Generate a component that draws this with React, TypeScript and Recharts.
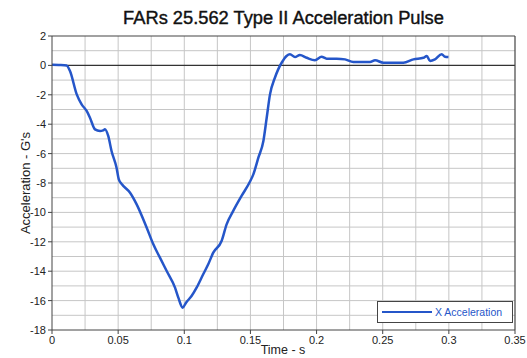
import React from "react";
import {
  LineChart,
  Line,
  XAxis,
  YAxis,
  ReferenceLine,
} from "recharts";

// sampled pulse: time (s) and acceleration (G)
const times = [
  0, 0.005, 0.011, 0.0136, 0.0187, 0.0224, 0.0262, 0.0287, 0.0325, 0.0363,
  0.0386, 0.04, 0.0425, 0.045, 0.0488, 0.0505, 0.053, 0.059, 0.064, 0.0716,
  0.0766, 0.0816, 0.0867, 0.093, 0.0955, 0.0988, 0.1013, 0.1055, 0.1093,
  0.1143, 0.1181, 0.1219, 0.1282, 0.132, 0.137, 0.1433, 0.1497, 0.1522, 0.156,
  0.1598, 0.1623, 0.1648, 0.1685, 0.171, 0.1736, 0.1773, 0.1799, 0.1837,
  0.1874, 0.1925, 0.1988, 0.2038, 0.2076, 0.2152, 0.2215, 0.2278, 0.2404,
  0.2442, 0.2505, 0.2656, 0.2732, 0.2808, 0.2833, 0.2858, 0.2895, 0.2946,
  0.2971, 0.2997,
];
const accel = [
  0.05, 0.03, 0, -0.38, -1.97, -2.65, -3.1, -3.56, -4.35, -4.46, -4.42, -4.35,
  -4.8, -5.82, -6.96, -7.75, -8.1, -8.66, -9.45, -11.04, -12.17, -13.08,
  -13.99, -15.12, -15.8, -16.48, -16.14, -15.69, -15.12, -14.21, -13.53,
  -12.74, -11.95, -10.81, -9.9, -8.88, -7.9, -7.41, -6.28, -5.14, -3.56,
  -1.97, -0.84, -0.27, 0.18, 0.64, 0.76, 0.57, 0.71, 0.52, 0.35, 0.59, 0.46,
  0.46, 0.41, 0.23, 0.23, 0.35, 0.18, 0.18, 0.41, 0.52, 0.64, 0.3, 0.41, 0.76,
  0.59, 0.57,
];

const xTicks = [0, 0.05, 0.1, 0.15, 0.2, 0.25, 0.3, 0.35];
const yTicks = [-18, -16, -14, -12, -10, -8, -6, -4, -2, 0, 2];
const xGrid = [0.025, 0.05, 0.075, 0.1, 0.125, 0.15, 0.175, 0.2, 0.225, 0.25, 0.275, 0.3, 0.325];
const yGrid = [-17, -16, -15, -14, -13, -12, -11, -10, -9, -8, -7, -6, -5, -4, -3, -2, -1, 1];

const data = times.map((t, i) => ({ t, x: accel[i] }));

const FONT = "'Liberation Sans', Arial, sans-serif";
const BLUE = "#2556c9";
const GRID = "#c6c6c6";

export default function App() {
  return (
    <div style={{ position: "absolute", left: 0, top: 0, width: 527, height: 358, background: "#fff" }}>
      <div
        style={{
          position: "absolute",
          left: 52,
          width: 463,
          top: 7,
          textAlign: "center",
          fontFamily: FONT,
          fontSize: 18.3,
          color: "#111",
          WebkitTextStroke: "0.4px #111",
        }}
      >
        FARs 25.562 Type II Acceleration Pulse
      </div>
      <LineChart
        width={527}
        height={358}
        data={data}
        margin={{ top: 36, right: 12, bottom: 0, left: 0 }}
        style={{ fontFamily: FONT }}
      >
        <XAxis
          dataKey="t"
          type="number"
          domain={[0, 0.35]}
          ticks={xTicks}
          height={28}
          stroke="#444"
          tickSize={4}
          tick={{ fill: "#222", fontSize: 11 }}
          label={{
            content: () => (
              <text x={283} y={350} textAnchor="middle" dominantBaseline="central" fill="#222" fontSize={12.5}>
                Time - s
              </text>
            ),
          }}
        />
        <YAxis
          type="number"
          domain={[-18, 2]}
          ticks={yTicks}
          width={52}
          stroke="#444"
          tickSize={4}
          tick={{ fill: "#222", fontSize: 11 }}
          label={{
            content: () => (
              <text
                x={25}
                y={183}
                transform="rotate(-90 25 183)"
                textAnchor="middle"
                dominantBaseline="central"
                fill="#222"
                fontSize={13}
              >
                Acceleration - G's
              </text>
            ),
          }}
        />
        {xGrid.map((v) => (
          <ReferenceLine key={`gx${v}`} x={v} stroke={GRID} strokeWidth={1} />
        ))}
        {yGrid.map((v) => (
          <ReferenceLine key={`gy${v}`} y={v} stroke={GRID} strokeWidth={1} />
        ))}
        <ReferenceLine y={0} stroke="#333" strokeWidth={1.2} />
        <ReferenceLine y={2} stroke="#444" strokeWidth={1.2} />
        <ReferenceLine x={0.35} stroke="#444" strokeWidth={1.2} />
        <Line
          type="monotone"
          dataKey="x"
          stroke={BLUE}
          strokeWidth={2.5}
          dot={false}
          isAnimationActive={false}
        />
      </LineChart>
      <div
        style={{
          position: "absolute",
          left: 377,
          top: 301,
          width: 134,
          height: 20,
          border: "1.5px solid #444",
          background: "#fff",
          display: "flex",
          alignItems: "center",
          fontFamily: FONT,
          fontSize: 10.5,
          color: BLUE,
        }}
      >
        <div style={{ width: 50, height: 2, background: BLUE, marginLeft: 4, marginRight: 3 }} />
        <span>X Acceleration</span>
      </div>
    </div>
  );
}
